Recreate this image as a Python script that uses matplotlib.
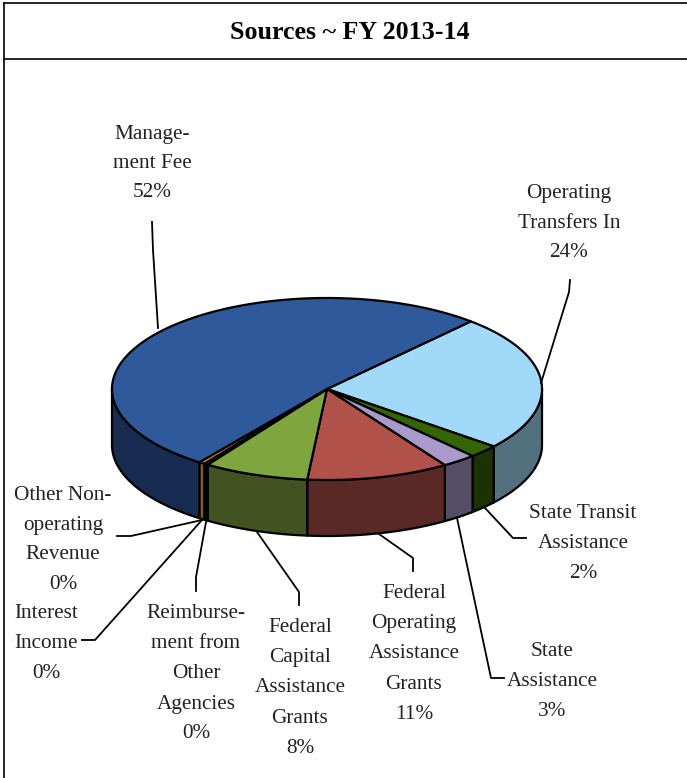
import numpy as np
import matplotlib
matplotlib.use('Agg')
import matplotlib.pyplot as plt
from matplotlib.patches import Polygon

plt.rcParams['font.family'] = ['Liberation Serif', 'DejaVu Serif']

# shares in percent, clockwise from the top right
names = ['Operating\nTransfers In', 'State Transit\nAssistance', 'State\nAssistance',
         'Federal\nOperating\nAssistance\nGrants', 'Federal\nCapital\nAssistance\nGrants',
         'Reimburse-\nment from\nOther\nAgencies', 'Interest\nIncome',
         'Other Non-\noperating\nRevenue', 'Manage-\nment Fee']
shares = [24.2, 2.3, 2.6, 10.7, 7.9, 0.2, 0.1, 0.45, 51.55]
top_colors = ['#A0DAF8', '#336600', '#A99ACB', '#B1524A', '#7FA53F',
              '#1F1F1F', '#1F1F1F', '#D68F2E', '#2E5A9C']
side_colors = ['#53707F', '#1A3300', '#544D65', '#592925', '#425220',
               '#101010', '#101010', '#8A5A18', '#172C50']

# label centre and leader path, pixels
label_x = [569, 583, 552, 414, 300, 196, 46, 63, 152]
label_y = [221, 541, 680, 652, 686, 672, 642, 538, 161]
line_gap = [29.5, 30, 30, 30.2, 30.3, 30, 30, 29.7, 29]
leaders = [[(570, 280), (569, 292), (541, 383)],
           [(526, 538), (513, 538), (485, 508)],
           [(504, 678), (491, 678), (457, 518)],
           [(413, 571), (413, 558), (379, 534)],
           [(299, 605), (299, 592), (257, 532)],
           [(196, 591), (196, 577), (206, 522)],
           [(82, 640), (95, 640), (202, 520)],
           [(117, 536), (131, 536), (202, 520)],
           [(152, 222), (153, 250), (158, 328)]]

cx, cy = 327, 389
rx, ry = 215, 91
depth = 56
start_angle = 48


def arc(a0, a1, drop=0):
    t = np.radians(np.linspace(a0, a1, max(int(abs(a1 - a0) * 2), 2)))
    return np.column_stack([cx + rx * np.cos(t), cy - ry * np.sin(t) + drop])


fig = plt.figure(figsize=(6.87, 7.78), dpi=100)
ax = fig.add_axes([0, 0, 1, 1])
ax.set_xlim(0, 687)
ax.set_ylim(778, 0)
ax.axis('off')

# frame and title, open on the right and at the bottom
ax.plot([4, 4], [778, 3], color='black', lw=1.2)
ax.plot([4, 687], [3, 3], color='black', lw=1.2)
ax.plot([4, 687], [59, 59], color='black', lw=1.2)
ax.text(349.5, 32.5, 'Sources ~ FY 2013-14', fontsize=18.7, fontweight='bold',
        ha='center', va='center', color='black')

ends = start_angle - np.cumsum(shares) * 3.6
starts = np.r_[start_angle, ends[:-1]]

# walls of the front half, clipped at the left and right extremes
for a0, a1, col in zip(starts, ends, side_colors):
    lo, hi = max(a1, -180), min(a0, 0)
    if a0 <= -180 or hi <= lo:
        continue
    upper = arc(hi, lo)
    lower = arc(lo, hi, depth)
    ax.add_patch(Polygon(np.vstack([upper, lower]), closed=True, facecolor=col,
                         edgecolor='black', lw=1.6, joinstyle='round'))

# top face
for a0, a1, col in zip(starts, ends, top_colors):
    pts = np.vstack([[cx, cy], arc(a0, a1)])
    ax.add_patch(Polygon(pts, closed=True, facecolor=col, edgecolor='black',
                         lw=1.6, joinstyle='round'))

for path in leaders:
    ax.plot(*zip(*path), color='black', lw=1.3, solid_joinstyle='round')

for name, share, x, y, gap in zip(names, shares, label_x, label_y, line_gap):
    lines = name.split('\n') + [f'{round(share)}%']
    top = y + 2 - gap * (len(lines) - 1) / 2
    for i, line in enumerate(lines):
        ax.text(x, top + i * gap, line, fontsize=15.3, ha='center', va='center',
                color='#222222')

fig.savefig('out.png', dpi=100)
